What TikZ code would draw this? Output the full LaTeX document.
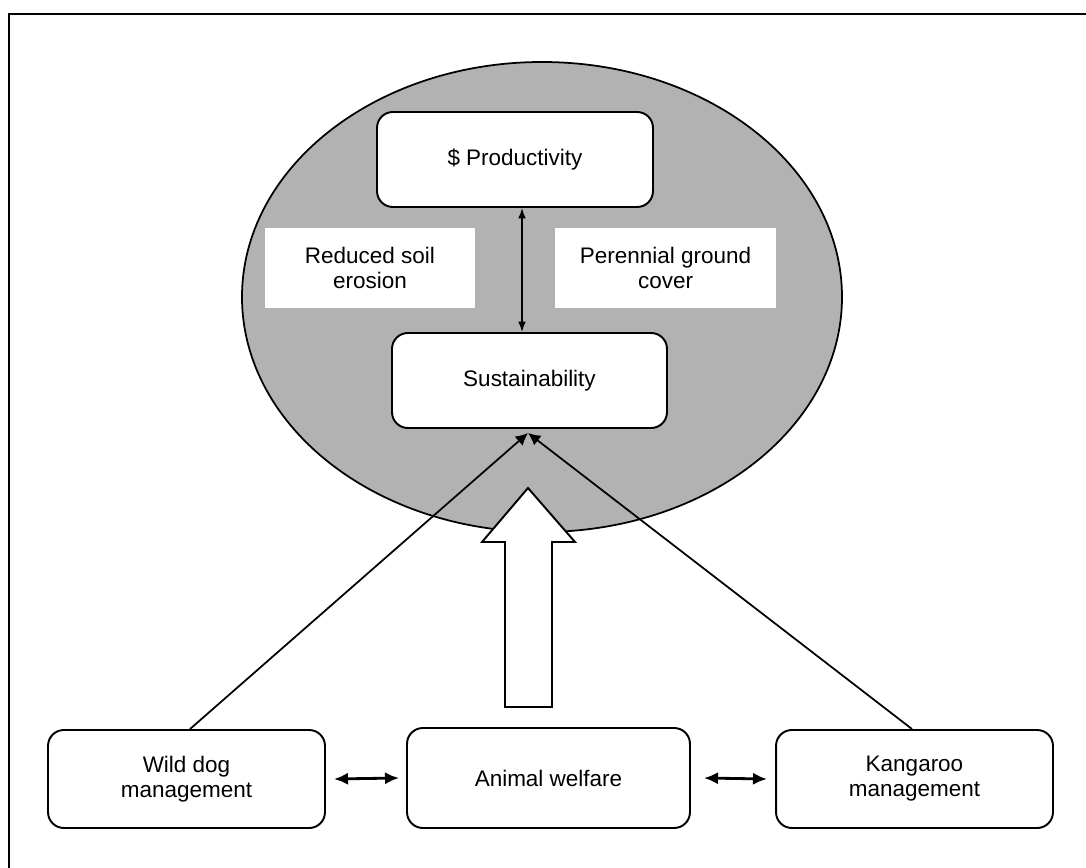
\documentclass[tikz,border=0pt]{standalone}
\usepackage{fontspec}
\setmainfont{Liberation Sans}
\usetikzlibrary{arrows.meta}

\tikzset{
  box/.style={draw, line width=1.1pt, rounded corners=9pt, fill=white, align=center,
    inner sep=0pt, font=\fontsize{12.8}{14.2}\selectfont},
  note/.style={fill=white, align=center, inner sep=0pt,
    font=\fontsize{12.8}{14.2}\selectfont},
  dbl/.style={{Latex[length=8pt,width=7pt]}-{Latex[length=8pt,width=7pt]}, line width=1.6pt},
  thin dbl/.style={{Latex[length=6pt,width=4.5pt]}-{Latex[length=6pt,width=4.5pt]}, line width=0.9pt},
  link/.style={-{Latex[length=7pt,width=7pt]}, line width=1pt}
}

\begin{document}
\begin{tikzpicture}[x=0.02cm,y=-0.02cm]
            \useasboundingbox (0,0) rectangle (1086,868);
            \draw[line width=1.6pt] (9,868) -- (9,14) -- (1086,14);

            % the shaded circle
            \draw[line width=1pt, fill=black!30] (542,297) ellipse [x radius=300, y radius=235];

            \node[box, minimum width=5.52cm, minimum height=1.9cm] (P) at (515,159.5) {\$ Productivity};
            \node[box, minimum width=5.5cm, minimum height=1.9cm] (S) at (529.5,380.5) {Sustainability};
            \node[note, minimum width=4.2cm, minimum height=1.6cm] (R) at (370,268) {Reduced soil\\erosion};
            \node[note, minimum width=4.42cm, minimum height=1.6cm] (G) at (665.5,268) {Perennial ground\\cover};

            \node[box, minimum width=5.54cm, minimum height=1.96cm] (W) at (186.5,779) {Wild dog\\management};
            \node[box, minimum width=5.66cm, minimum height=2cm] (A) at (548.5,778) {Animal welfare};
            \node[box, minimum width=5.54cm, minimum height=1.96cm] (K) at (914.5,779) {Kangaroo\\management};

            \coordinate (J) at (528,433);

            % hollow arrow from animal welfare
            \draw[line width=1.1pt, fill=white] (505,707) -- (505,542) -- (482,542) -- (528,488)
              -- (575,542) -- (552,542) -- (552,707) -- cycle;

            \draw[thin dbl] ([xshift=0.14cm]P.south) -- ([xshift=0.14cm]P.south |- S.north);
            \draw[link] ([xshift=0.07cm]W.north) -- (J);
            \draw[link] ([xshift=-0.05cm]K.north) -- (J);
            \draw[dbl] ([xshift=0.16cm]W.east) -- ([xshift=-0.14cm]A.west);
            \draw[dbl] ([xshift=0.26cm]A.east) -- ([xshift=-0.16cm]K.west);
\end{tikzpicture}
\end{document}
